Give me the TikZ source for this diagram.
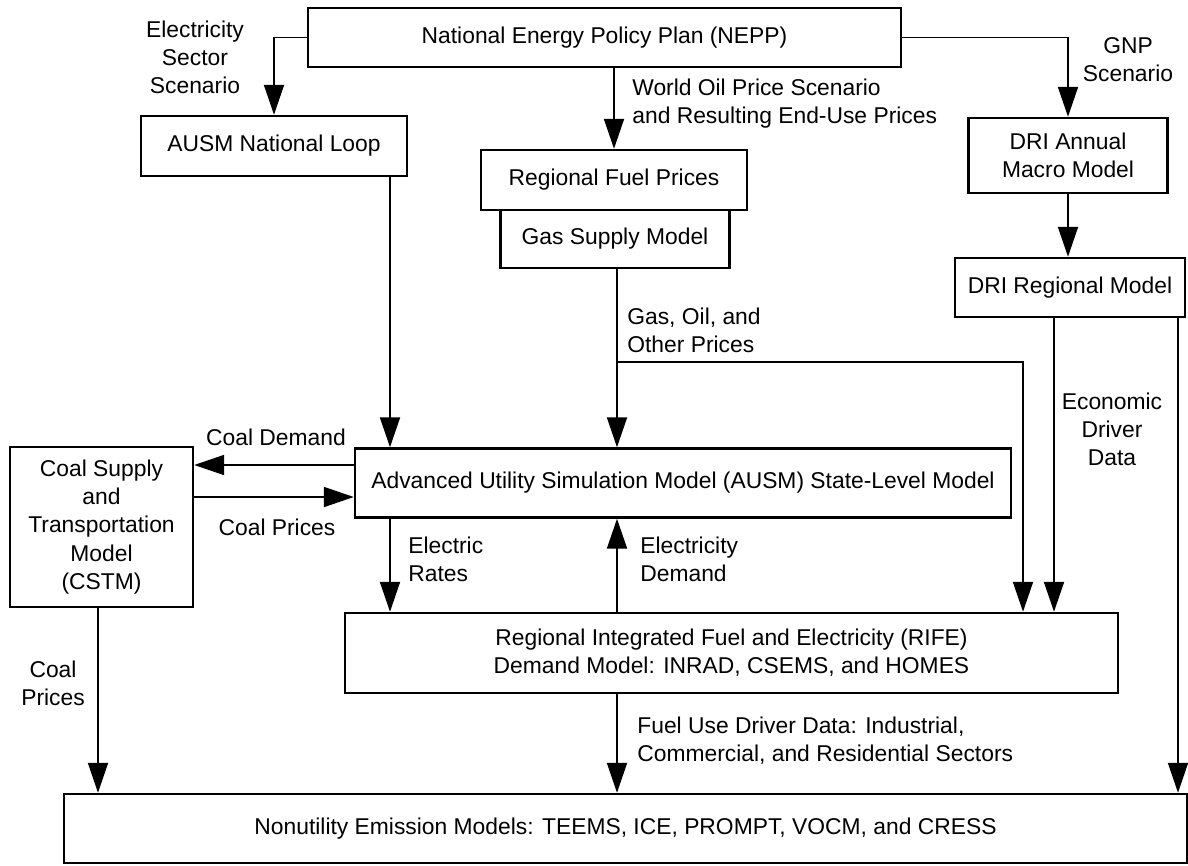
\documentclass[tikz,border=0pt]{standalone}
\usepackage{fontspec}
\setmainfont{Liberation Sans}
\usetikzlibrary{arrows.meta}
\usetikzlibrary{positioning}

\begin{document}
\begin{tikzpicture}[x=0.02cm,y=-0.02cm,
	box/.style={draw, line width=1.4pt, inner sep=0pt, align=center},
	arr/.style={line width=1.1pt, -{Triangle[length=0.6cm,width=0.4cm]}},
	lbl/.style={inner sep=0pt, align=center},
	font=\fontsize{13}{16}\selectfont]
	\useasboundingbox (0,0) rectangle (1188,866);
	% boxes
	\node[box, minimum width=593*0.02cm, minimum height=59*0.02cm] (nepp) at (604.5,37.5){National Energy Policy Plan (NEPP)};
	\node[box, minimum width=266*0.02cm, minimum height=60*0.02cm] (natloop) at (274,146){AUSM National Loop};
	\node[box, minimum width=266*0.02cm, minimum height=60*0.02cm] (fuelprices) at (614,180){Regional Fuel Prices};
	\node[box, minimum width=229*0.02cm, minimum height=58*0.02cm] (gassupply) at (615,239){Gas Supply Model};
	\node[box, minimum width=199*0.02cm, minimum height=75*0.02cm] (drimacro) at (1068,155.5){DRI Annual\\Macro Model};
	\node[box, minimum width=230*0.02cm, minimum height=59*0.02cm] (driregional) at (1070,287.5){DRI Regional Model};
	\node[box, minimum width=656*0.02cm, minimum height=69*0.02cm] (ausm) at (683,483){Advanced Utility Simulation Model (AUSM) State-Level Model};
	\node[box, minimum width=183*0.02cm, minimum height=160*0.02cm] (cstm) at (101.5,527){Coal Supply\\and\\Transportation\\Model\\(CSTM)};
	\node[box, minimum width=773*0.02cm, minimum height=80*0.02cm] (rife) at (731.5,653){Regional Integrated Fuel and Electricity (RIFE)\\Demand Model: INRAD, CSEMS, and HOMES};
	\node[box, minimum width=1123*0.02cm, minimum height=69*0.02cm] (nonutil) at (625.5,828.5){Nonutility Emission Models: TEEMS, ICE, PROMPT, VOCM, and CRESS};
	% tracks
	\coordinate (xrate) at (390,0);
	\coordinate (xdem) at (617,0);
	\coordinate (xgas) at (1023,0);
	\coordinate (xecon) at (1054,0);
	\coordinate (xfar) at (1178,0);
	\coordinate (xcoal) at (98,0);
	\coordinate (ycdem) at (0,465);
	\coordinate (ycpr) at (0,497);
	\coordinate (gasjoin) at (617,362);
	% connectors
	\draw[arr] (nepp.west) -| (natloop.north);
	\draw[arr] (nepp.south -| fuelprices.north) -- (fuelprices.north);
	\draw[arr] (nepp.east) -| (drimacro.north);
	\draw[arr] (drimacro.south) -- (drimacro.south |- driregional.north);
	\draw[arr] (natloop.south -| xrate) -- (ausm.north -| xrate);
	\draw[arr] (gassupply.south -| xdem) -- (ausm.north -| xdem);
	\draw[arr] (gasjoin) -| (rife.north -| xgas);
	\draw[arr] (driregional.south -| xecon) -- (rife.north -| xecon);
	\draw[arr] (driregional.south -| xfar) -- (nonutil.north -| xfar);
	\draw[arr] (ausm.west |- ycdem) -- (cstm.east |- ycdem);
	\draw[arr] (cstm.east |- ycpr) -- (ausm.west |- ycpr);
	\draw[arr] (ausm.south -| xrate) -- (rife.north -| xrate);
	\draw[arr] (rife.north -| xdem) -- (ausm.south -| xdem);
	\draw[arr] (rife.south -| xdem) -- (nonutil.north -| xdem);
	\draw[arr] (cstm.south -| xcoal) -- (nonutil.north -| xcoal);
	% labels
	\node[lbl] (lelsec) at (195,57){Electricity\\Sector\\Scenario};
	\node[lbl, anchor=west, align=left] (loil) at (632,104){World Oil Price Scenario\\and Resulting End-Use Prices};
	\node[lbl] (lgnp) at (1128,60){GNP\\Scenario};
	\node[lbl, anchor=west, align=left] (lgas) at (627,330){Gas, Oil, and\\Other Prices};
	\node[lbl] (lecon) at (1112,429){Economic\\Driver\\Data};
	\node[lbl] (lcdem) at (276,437){Coal Demand};
	\node[lbl] (lcpr) at (277,527){Coal Prices};
	\node[lbl, anchor=west, align=left] (lrate) at (408,559){Electric\\Rates};
	\node[lbl, anchor=west, align=left] (leldem) at (640,559){Electricity\\Demand};
	\node[lbl] (lcpr2) at (53,683){Coal\\Prices};
	\node[lbl, anchor=west, align=left] (lfuel) at (637,741){Fuel Use Driver Data: Industrial,\\Commercial, and Residential Sectors};
\end{tikzpicture}
\end{document}
